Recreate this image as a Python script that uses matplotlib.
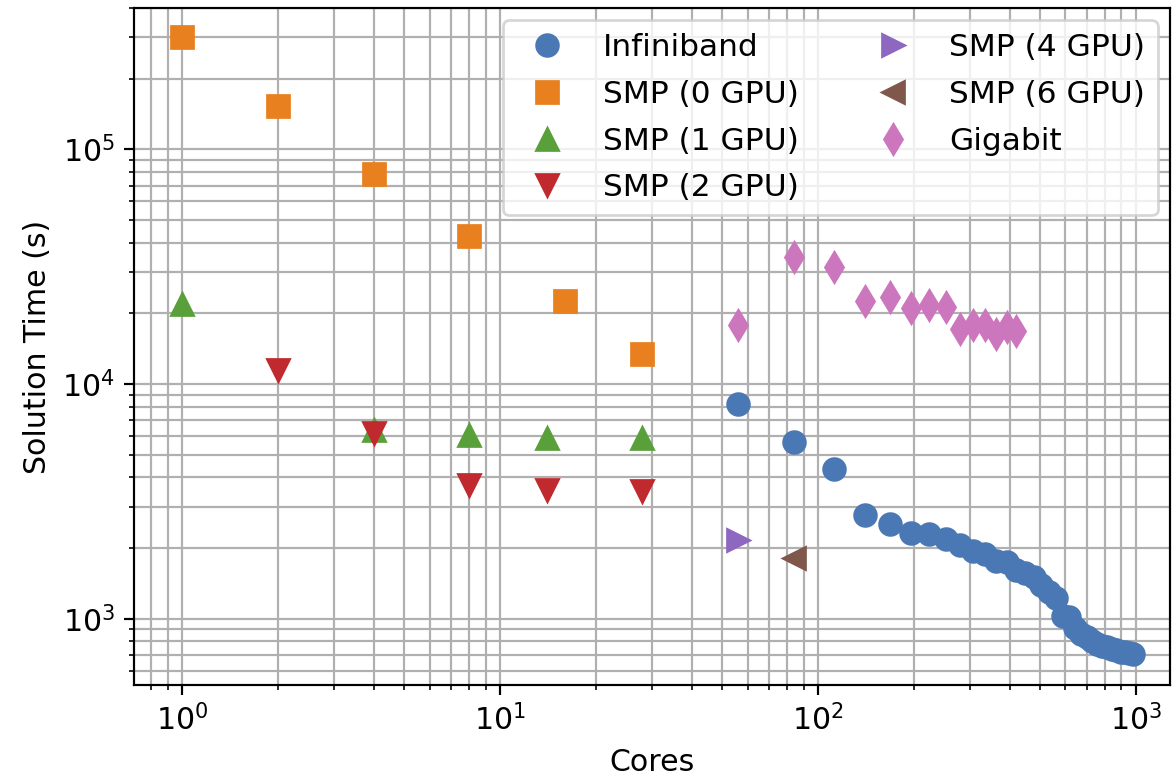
import matplotlib
matplotlib.use("Agg")
import matplotlib.pyplot as plt

# Infiniband cluster
ib_cores = [56, 84, 112, 140, 168, 196, 224, 252, 280, 308, 336, 364, 392, 420,
            448, 476, 504, 532, 560, 588, 616, 644, 672, 700, 728, 756, 784, 812,
            840, 868, 896, 924, 952, 980]
ib_time = [8180, 5670, 4360, 2760, 2540, 2310, 2290, 2180, 2060, 1950, 1890, 1760,
           1740, 1610, 1570, 1500, 1390, 1300, 1230, 1030, 1020, 910, 865, 835,
           800, 780, 765, 755, 745, 735, 725, 720, 712, 708]

# single node SMP runs
smp0_cores = [1, 2, 4, 8, 16, 28]
smp0_time = [300000, 153000, 78300, 42600, 22500, 13400]

smp1_cores = [1, 4, 8, 14, 28]
smp1_time = [21900, 6350, 6050, 5900, 5900]

smp2_cores = [2, 4, 8, 14, 28]
smp2_time = [11500, 6200, 3700, 3530, 3500]

smp4_cores = [56]
smp4_time = [2160]

smp6_cores = [84]
smp6_time = [1810]

# Gigabit cluster
gig_cores = [56, 84, 112, 140, 168, 196, 224, 252, 280, 308, 336, 364, 392, 420]
gig_time = [17900, 34800, 31400, 22600, 23400, 21000, 21700, 21300, 17200, 17900,
            17900, 16400, 17500, 16800]

series = [
    ("Infiniband", ib_cores, ib_time, "o", "#4a78b4"),
    ("SMP (0 GPU)", smp0_cores, smp0_time, "s", "#e8801f"),
    ("SMP (1 GPU)", smp1_cores, smp1_time, "^", "#5aa03a"),
    ("SMP (2 GPU)", smp2_cores, smp2_time, "v", "#c02a2e"),
    ("SMP (4 GPU)", smp4_cores, smp4_time, ">", "#8e67c0"),
    ("SMP (6 GPU)", smp6_cores, smp6_time, "<", "#7f574b"),
    ("Gigabit", gig_cores, gig_time, "d", "#cc76bd"),
]


def main():
    plt.rcParams['font.size'] = 11
    fig = plt.figure(figsize=(6, 4), dpi=196)
    ax = fig.add_axes([0.114, 0.126, 0.881, 0.864])

    for label, xs, ys, marker, color in series:
        ax.plot(xs, ys, linestyle="none", marker=marker, markersize=8,
                color=color, label=label)

    ax.set_xscale("log")
    ax.set_yscale("log")
    ax.set_xlim(0.706, 1280)
    ax.set_ylim(521, 4.0e5)
    ax.grid(True, which="both", color="#b0b0b0", linewidth=0.8)
    ax.set_axisbelow(True)

    ax.set_xlabel("Cores")
    ax.set_ylabel("Solution Time (s)")
    ax.legend(loc="upper right", ncol=2, fontsize=11.5, borderaxespad=0.4,
              handlelength=2.0, labelspacing=0.57)

    fig.savefig("out.png", dpi=196)


if __name__ == "__main__":
    main()
